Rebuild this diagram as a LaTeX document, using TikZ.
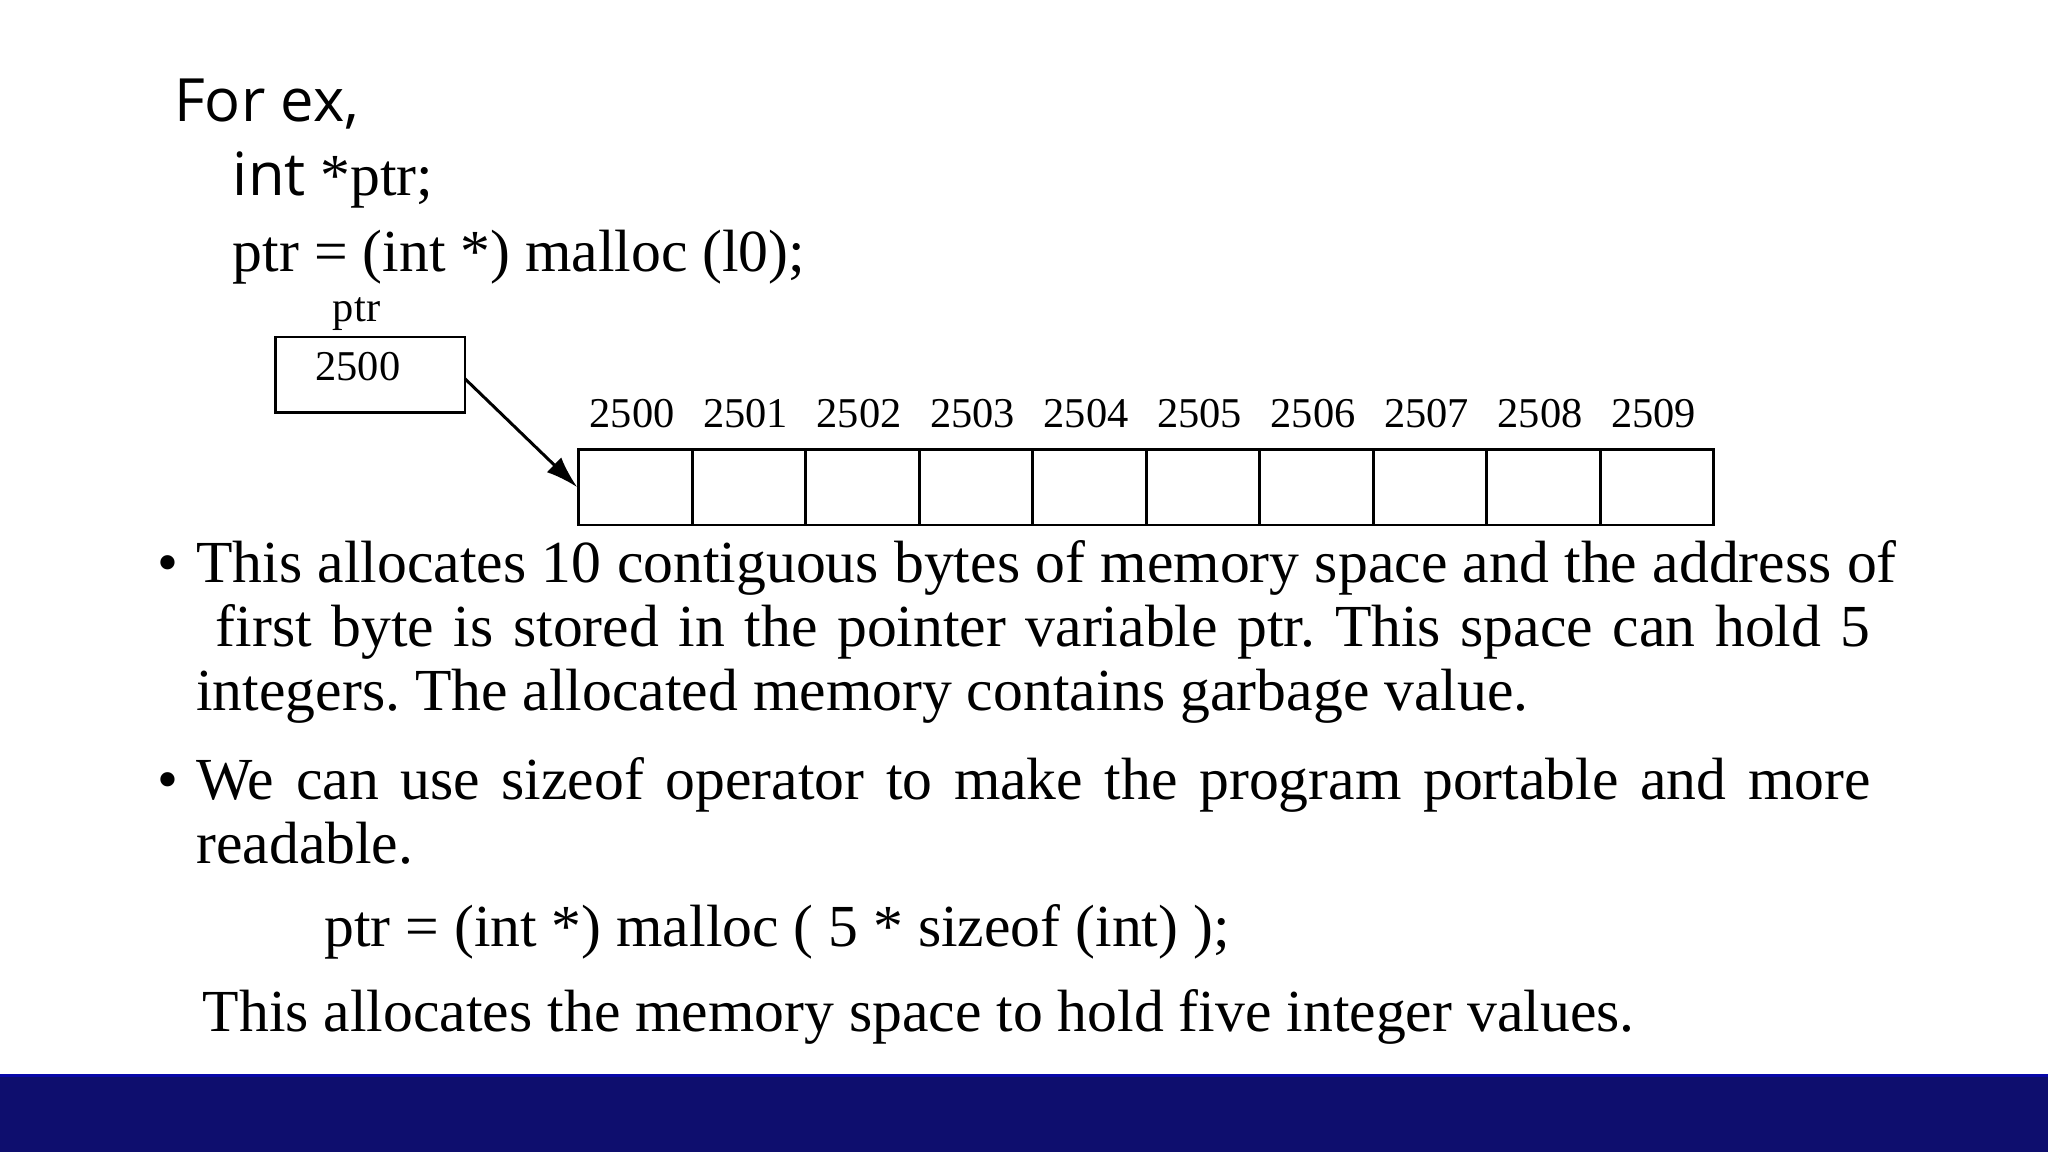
\documentclass[tikz,border=0pt]{standalone}
\usepackage{fontspec}
\setmainfont{Liberation Serif}
\newfontfamily\sansf{Open Sans}
\usetikzlibrary{arrows.meta}
\definecolor{barblue}{HTML}{0E0E6E}
\frenchspacing
\begin{document}
\begin{tikzpicture}[x=0.02cm,y=-0.02cm,
  txt/.style={anchor=base west,inner sep=0pt,font=\fontsize{26}{30}\selectfont},
  lbl/.style={inner sep=0pt,font=\fontsize{18.5}{22}\selectfont},
  cell/.style={draw,line width=1.2pt,minimum width=1.74cm,minimum height=1.16cm,inner sep=0pt}]
\useasboundingbox (0,0) rectangle (1568,882);
\fill[barblue] (0,823) rectangle (1568,882);
\draw[blue!40!barblue,line width=1pt] (0,823.5) -- (1568,823.5);
\node[txt,font=\sansf\fontsize{26}{30}\selectfont] (t1) at (133,93) {For ex,};
\node[txt] (t2) at (178,150) {{\sansf int} *ptr;};
\node[txt] (t3) at (178,208) {ptr = (int *) malloc (l0);};
% diagram
\node[lbl,anchor=base] (plabel) at (273,246) {ptr};
\node[draw,line width=1.2pt,minimum width=2.9cm,minimum height=1.16cm,inner sep=0pt] (pbox) at (283.5,287) {};
\node[lbl] (pval) at (274,281) {2500};
\foreach \i in {0,...,9}{
  \node[cell] (c\i) at ({486.5+86.9*\i},373) {};
  \node[lbl] (a\i) at ({484+86.9*\i},317) {250\i};
}
\coordinate (pout) at (356,290);
\draw[line width=1.3pt,-{Latex[length=14pt,width=9pt]}] (pout) -- (c0.west);
% bullets
\node[txt] (b1) at (120,446) {\textbullet};
\node[txt] (l1) at (150,446) {\makebox[26.04cm][s]{This allocates 10 contiguous bytes of memory space and the address of}};
\node[txt] (l2) at (165,495) {\makebox[25.34cm][s]{first byte is stored in the pointer variable ptr. This space can hold 5}};
\node[txt] (l3) at (150,544) {integers. The allocated memory contains garbage value.};
\node[txt] (b2) at (120,612) {\textbullet};
\node[txt] (l4) at (150,612) {\makebox[25.64cm][s]{We can use sizeof operator to make the program portable and more}};
\node[txt] (l5) at (150,661) {readable.};
\node[txt] (l6) at (248,725) {ptr = (int *) malloc ( 5 * sizeof (int) );};
\node[txt] (l7) at (155,790) {This allocates the memory space to hold five integer values.};
\end{tikzpicture}
\end{document}
